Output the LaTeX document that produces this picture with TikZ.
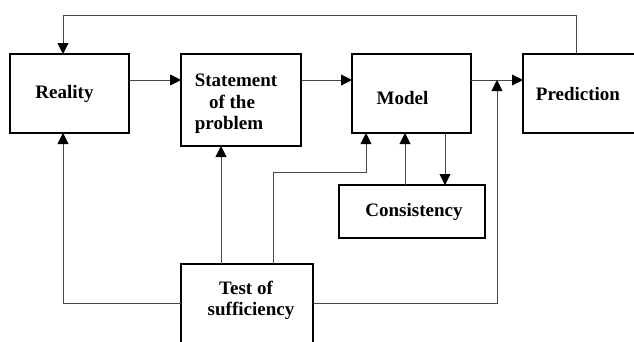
\documentclass[tikz,border=0pt]{standalone}
\usepackage{fontspec}
\setmainfont{Liberation Serif}
\usetikzlibrary{arrows.meta}
\begin{document}
\begin{tikzpicture}[x=1pt,y=-1pt,
  box/.style={draw=black,line width=1.5pt,outer sep=0pt,inner sep=2pt,
    font=\fontsize{19}{21.5}\selectfont\bfseries},
  conn/.style={draw=black!72,line width=0.9pt},
  arr/.style={conn,-{Triangle[length=11pt,width=11pt,black]}}]
\useasboundingbox (0,0) rectangle (634,341);
\clip (0,0) rectangle (634,341);
\fill[white] (0,0) rectangle (634,341);
\node[box,minimum width=119pt,minimum height=79pt] (R) at (69.5,93.5) {Reality\hspace*{10pt}};
\node[box,minimum width=120pt,minimum height=92pt] (S) at (241,100) {\raisebox{-4pt}[\height][\depth]{\begin{tabular}{@{}c@{}}Statement\hspace*{10pt}\\of the\hspace*{18pt}\\problem\hspace*{24pt}\end{tabular}}};
\node[box,minimum width=119pt,minimum height=79pt] (M) at (411.5,93.5) {\raisebox{-22pt}{Model}\hspace*{18pt}};
\node[box,minimum width=122pt,minimum height=79pt] (P) at (584,93.5) {Prediction\hspace*{12pt}};
\node[box,minimum width=146pt,minimum height=53pt] (C) at (412,211.5) {\hspace*{4pt}Consistency};
\node[box,align=center,minimum width=132pt,minimum height=96pt,text depth=27pt] (T) at (247,312) {Test of\hspace*{2pt}\\\hspace*{8pt}sufficiency};
\coordinate (top) at (0,15);
\coordinate (main) at (0,80);
\coordinate (low) at (0,303);
\coordinate (mid) at (0,172);
\coordinate (xa) at (63,0);
\coordinate (xb) at (221,0);
\coordinate (xc) at (273,0);
\coordinate (xd) at (366,0);
\coordinate (xe) at (405,0);
\coordinate (xf) at (445,0);
\coordinate (xg) at (497,0);
\coordinate (xh) at (576,0);
% feedback from prediction to reality
\draw[arr] (P.north -| xh) -- (xh |- top) -- (xa |- top) -- (R.north -| xa);
% main chain
\draw[arr] (R.east |- main) -- (S.west |- main);
\draw[arr] (S.east |- main) -- (M.west |- main);
\draw[arr] (M.east |- main) -- (P.west |- main);
% test of sufficiency
\draw[arr] (T.west |- low) -- (xa |- low) -- (R.south -| xa);
\draw[arr] (T.north -| xb) -- (S.south -| xb);
\draw[arr] (T.north -| xc) -- (xc |- mid) -- (xd |- mid) -- (M.south -| xd);
\draw[arr] (T.east |- low) -- (xg |- low) -- (xg |- main);
% consistency
\draw[arr] (C.north -| xe) -- (M.south -| xe);
\draw[arr] (M.south -| xf) -- (C.north -| xf);
\end{tikzpicture}
\end{document}
